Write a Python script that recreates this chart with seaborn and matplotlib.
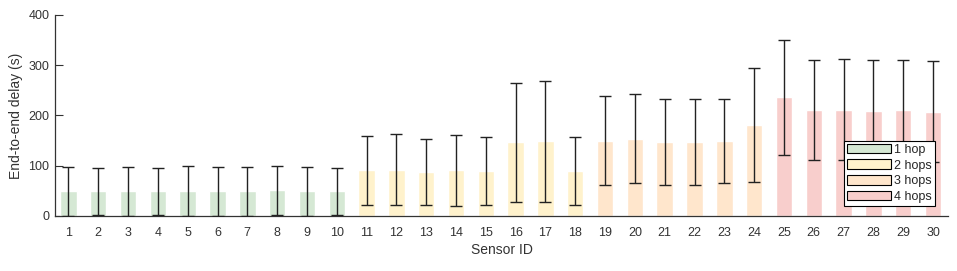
import numpy as np
import pandas as pd
import matplotlib
matplotlib.use("Agg")
import matplotlib.pyplot as plt
import seaborn as sns
from matplotlib.patches import Patch

# datos
sensor_ids = list(range(1, 31))
hops = ["1 hop"] * 10 + ["2 hops"] * 8 + ["3 hops"] * 6 + ["4 hops"] * 6
mean_delay = [49, 49, 49, 49, 49, 49, 49, 51, 49, 49,
              90.5, 92, 87.5, 91, 89.5, 146.5, 148.5, 89.5,
              150, 153.5, 147, 147, 150, 181,
              236, 211, 211.5, 209.5, 211, 207.5]
std_delay = [48.5, 46.8, 48.5, 47, 50, 48.5, 48.5, 48.5, 48.5, 46.5,
             69.5, 70.5, 66, 70.5, 68, 118.5, 120.5, 68.5,
             88, 88.5, 85, 85, 83.5, 114,
             114, 99, 100, 100, 99, 100]
hop_labels = ["1 hop", "2 hops", "3 hops", "4 hops"]
hop_colors = ["#d5e8d4", "#fff2cc", "#ffe6cc", "#f8cecc"]

df = pd.DataFrame({"sensor": [str(s) for s in sensor_ids], "hop": hops,
                   "delay": mean_delay, "std": std_delay})

sns.set_style("ticks")
plt.rcParams["font.family"] = ["Liberation Sans", "DejaVu Sans"]

fig = plt.figure(figsize=(9.57, 2.71), dpi=100)
ax = fig.add_axes([0.0575, 0.203, 0.933, 0.742])

sns.barplot(data=df, x="sensor", y="delay", hue="hop", hue_order=hop_labels,
            palette=hop_colors, dodge=False, width=0.55, saturation=1,
            legend=False, ax=ax)

# barras de error (desviacion estandar)
ax.errorbar(np.arange(len(sensor_ids)), df["delay"], yerr=df["std"], fmt="none",
            ecolor="#222222", elinewidth=1.0, capsize=4, capthick=1.0, zorder=3)

ax.set_xlim(-0.45, 29.5)
ax.set_ylim(0, 400)
ax.set_yticks([0, 100, 200, 300, 400])
ax.tick_params(axis="y", direction="in", length=6, width=0.8, labelsize=9,
               colors="#333333", pad=4)
ax.tick_params(axis="x", length=0, labelsize=9, colors="#333333", pad=8)
ax.set_xlabel("Sensor ID", fontsize=10, color="#333333", labelpad=3)
ax.set_ylabel("End-to-end delay (s)", fontsize=10, color="#333333", labelpad=4)
sns.despine(ax=ax)
for s in ["left", "bottom"]:
    ax.spines[s].set_color("#333333")
    ax.spines[s].set_linewidth(0.9)

handles = [Patch(facecolor=c, edgecolor="black", linewidth=0.8) for c in hop_colors]
leg = ax.legend(handles, hop_labels, loc="lower right", bbox_to_anchor=(0.985, 0.05),
                fontsize=9, handlelength=3.5, handleheight=0.8, handletextpad=0.2,
                labelspacing=0.28, borderpad=0.25, borderaxespad=0, fancybox=False,
                framealpha=1)
leg.get_frame().set_edgecolor("black")
leg.get_frame().set_linewidth(0.8)

fig.savefig("out.png", dpi=100)
